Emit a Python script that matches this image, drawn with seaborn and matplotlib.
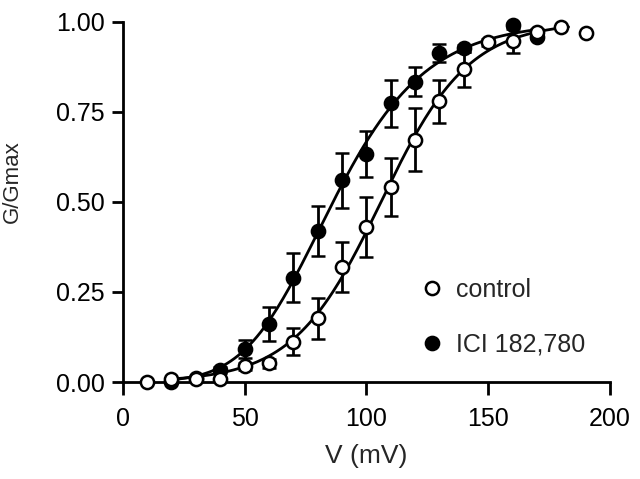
import numpy as np
import pandas as pd
import matplotlib
matplotlib.use("Agg")
import matplotlib.pyplot as plt
import seaborn as sns

# Valores
v_control = [10, 20, 30, 40, 50, 60, 70, 80, 90, 100, 110, 120, 130, 140, 150, 160, 170, 180, 190]
g_control = [0.0, 0.007, 0.009, 0.009, 0.044, 0.052, 0.112, 0.177, 0.320, 0.431, 0.541,
             0.673, 0.780, 0.869, 0.944, 0.947, 0.973, 0.987, 0.970]
err_control = [0, 0, 0, 0, 0.01, 0.012, 0.037, 0.057, 0.07, 0.083, 0.08,
               0.088, 0.06, 0.049, 0.01, 0.033, 0.008, 0, 0]

v_ici = [20, 30, 40, 50, 60, 70, 80, 90, 100, 110, 120, 130, 140, 160, 170]
g_ici = [0.0, 0.012, 0.033, 0.091, 0.162, 0.29, 0.42, 0.56, 0.634, 0.774, 0.834,
         0.913, 0.927, 0.992, 0.959]
err_ici = [0, 0, 0.008, 0.025, 0.047, 0.068, 0.07, 0.076, 0.064, 0.066, 0.04,
           0.025, 0.01, 0.005, 0.005]

# faixa de V das curvas ajustadas
fit_range_control = (20, 183)
fit_range_ici = (20, 172)


def boltzmann_fit(v, g, vmin, vmax):
    """Ajuste G = (1/(1+exp((Vh-V)/k)))^n por busca em grade (mínimos quadrados)."""
    v = np.asarray(v, float)
    g = np.asarray(g, float)
    vh = np.arange(30, 130, 0.5)[:, None, None, None]
    k = np.arange(4, 40, 0.25)[None, :, None, None]
    n = np.arange(1, 7)[None, None, :, None]
    pred = (1 / (1 + np.exp((vh - v) / k))) ** n
    sse = ((pred - g) ** 2).sum(axis=-1)
    i, j, m = np.unravel_index(np.argmin(sse), sse.shape)
    vh, k, n = vh.ravel()[i], k.ravel()[j], n.ravel()[m]
    vv = np.linspace(vmin, vmax, 200)
    return pd.DataFrame({"V": vv, "G": (1 / (1 + np.exp((vh - vv) / k))) ** n})


sns.set_style("ticks")
plt.rcParams["font.family"] = ["Liberation Sans", "DejaVu Sans"]

fig = plt.figure(figsize=(6.4, 4.79), dpi=100)
ax = fig.add_axes([0.1917, 0.2025, 0.7614, 0.7516])

fit_c = boltzmann_fit(v_control, g_control, *fit_range_control)
fit_i = boltzmann_fit(v_ici, g_ici, *fit_range_ici)
sns.lineplot(data=fit_c, x="V", y="G", ax=ax, color="black", lw=2, zorder=2)
sns.lineplot(data=fit_i, x="V", y="G", ax=ax, color="black", lw=2, zorder=2)

kw = dict(fmt="o", ms=9.5, mec="black", mew=1.8, ecolor="black", elinewidth=2,
          capsize=5, capthick=2, clip_on=False)
ax.errorbar(v_ici, g_ici, yerr=err_ici, mfc="black", zorder=3, label="ICI 182,780", **kw)
ax.errorbar(v_control, g_control, yerr=err_control, mfc="white", zorder=4, label="control", **kw)

ax.set_xlim(0, 200)
ax.set_ylim(0, 1)
ax.set_xticks([0, 50, 100, 150, 200])
ax.set_yticks([0, 0.25, 0.5, 0.75, 1.0])
ax.set_yticklabels(["0.00", "0.25", "0.50", "0.75", "1.00"])
ax.set_xlabel("V (mV)", fontsize=19, labelpad=9)
ax.set_ylabel("G/Gmax", fontsize=16)
ax.yaxis.set_label_coords(-0.205, 0.556)
ax.tick_params(labelsize=18, width=2, length=8, color="black", labelcolor="black")
ax.tick_params(axis="x", pad=9, length=9)
ax.tick_params(axis="y", pad=5)
for s in ["left", "bottom"]:
    ax.spines[s].set_linewidth(2)
    ax.spines[s].set_color("black")
sns.despine(ax=ax)

h, l = ax.get_legend_handles_labels()
h = [x[0] if isinstance(x, tuple) else x for x in h]
ax.legend([h[1], h[0]], [l[1], l[0]], loc="upper left", bbox_to_anchor=(0.589, 0.318),
          frameon=False, fontsize=18, handlelength=1.0, handletextpad=0.46,
          labelspacing=1.24, borderaxespad=0)

fig.savefig("out.png", dpi=100)
